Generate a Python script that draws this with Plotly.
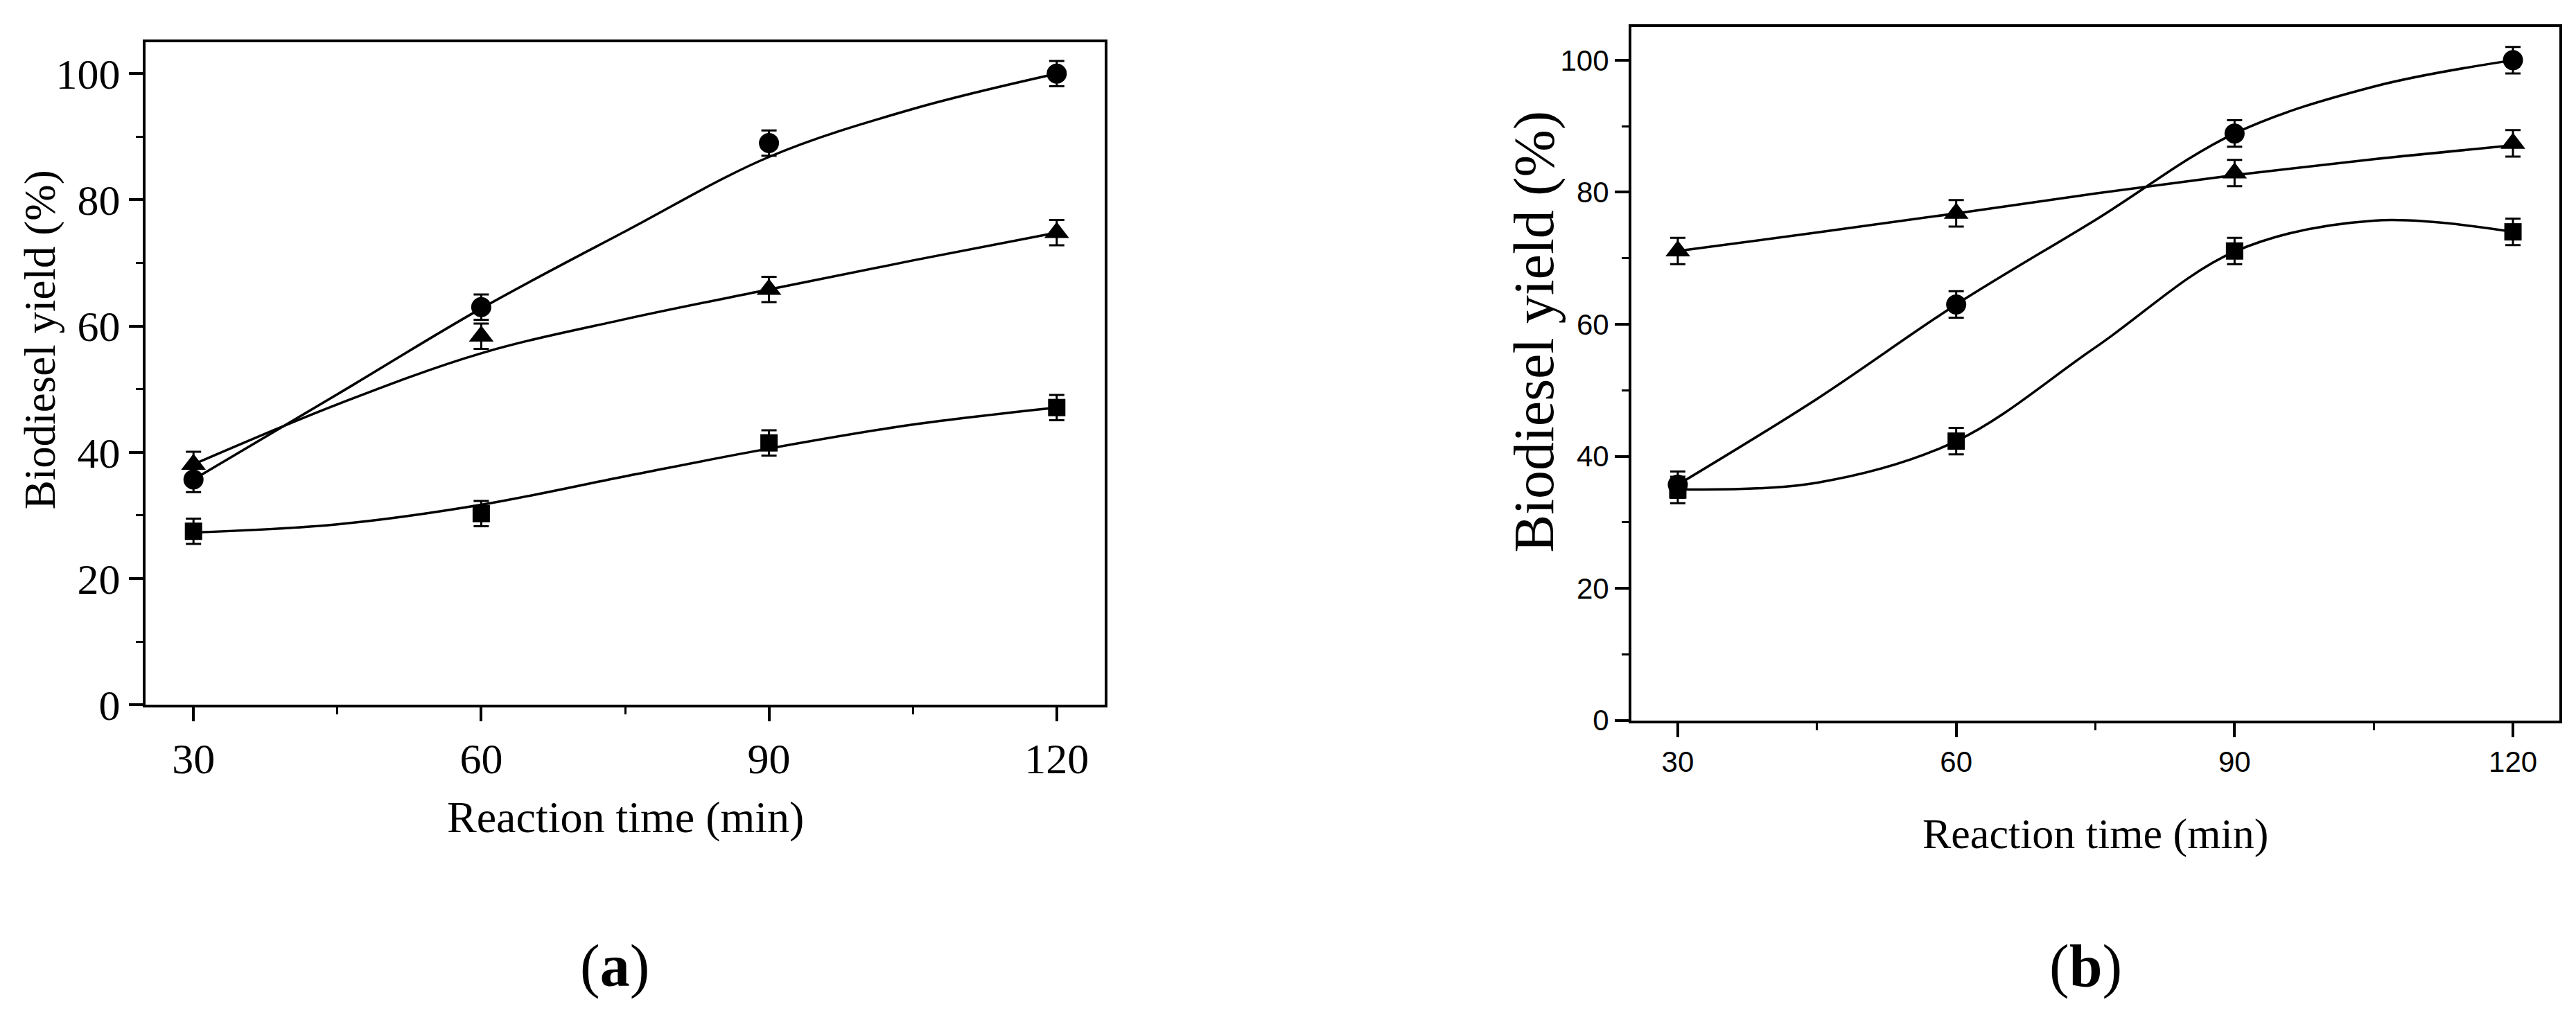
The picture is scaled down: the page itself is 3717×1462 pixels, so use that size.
import plotly.graph_objects as go

W, H = 3717, 1462

# reaction times (min)
time = [30, 60, 90, 120]
fit_time = [30, 45, 60, 75, 90, 105, 120]

# panel (a) measured yields (%)
a_circle = [35.7, 63.0, 89.0, 100.0]
a_triangle = [38.1, 58.4, 65.8, 74.8]
a_square = [27.5, 30.3, 41.5, 47.1]
# panel (a) fitted curves
a_circle_fit = [35.7, 49.2, 62.8, 75.0, 86.8, 94.4, 100.0]
a_triangle_fit = [38.1, 47.6, 55.7, 61.1, 65.8, 70.4, 74.8]
a_square_fit = [27.3, 28.6, 31.7, 36.2, 40.6, 44.4, 47.1]

# panel (b) measured yields (%)
b_circle = [35.7, 63.0, 88.9, 100.0]
b_triangle = [71.1, 76.8, 82.9, 87.4]
b_square = [34.9, 42.3, 71.1, 74.0]
# panel (b) fitted curves
b_circle_fit = [35.7, 48.7, 63.0, 75.8, 88.9, 96.0, 100.0]
b_triangle_fit = [71.1, 73.9, 76.8, 79.8, 82.6, 85.0, 87.1]
b_square_fit = [35.0, 36.0, 42.3, 56.5, 71.0, 75.7, 74.0]

err = 2.0

x_ticks = [30, 60, 90, 120]
y_ticks = [0, 20, 40, 60, 80, 100]

fig = go.Figure()


def add_panel(xa, ya, points, fits):
    # smooth curves first so markers sit on top
    for fy in fits:
        fig.add_trace(go.Scatter(
            x=fit_time, y=fy, mode='lines', xaxis=xa, yaxis=ya,
            line=dict(color='black', width=3.5, shape='spline', smoothing=1.0),
            showlegend=False, hoverinfo='skip'
        ))
    for py, sym, size in points:
        fig.add_trace(go.Scatter(
            x=time, y=py, mode='markers', xaxis=xa, yaxis=ya,
            marker=dict(symbol=sym, size=size, color='black'),
            error_y=dict(type='constant', value=err, color='black',
                         thickness=3, width=11),
            showlegend=False
        ))


add_panel('x', 'y',
          [(a_circle, 'circle', 29), (a_triangle, 'triangle-up', 31),
           (a_square, 'square', 25)],
          [a_circle_fit, a_triangle_fit, a_square_fit])
add_panel('x2', 'y2',
          [(b_circle, 'circle', 29), (b_triangle, 'triangle-up', 31),
           (b_square, 'square', 25)],
          [b_circle_fit, b_triangle_fit, b_square_fit])

serif = 'Liberation Serif, Times New Roman, serif'
sans = 'Liberation Sans, Arial, sans-serif'


def axis_style(font, size, ticks, dtick_minor, rng, domain, anchor):
    return dict(
        range=rng, domain=domain, anchor=anchor,
        showline=True, linecolor='black', linewidth=4, mirror=True,
        ticks='outside', ticklen=20, tickwidth=4, tickcolor='black',
        tickvals=ticks, showgrid=False, zeroline=False,
        tickfont=dict(family=font, size=size, color='black'),
        minor=dict(ticks='outside', ticklen=10, tickwidth=3,
                   tickcolor='black', dtick=dtick_minor, tick0=0,
                   showgrid=False),
    )


fig.update_layout(
    width=W, height=H,
    margin=dict(l=0, r=0, t=0, b=0),
    paper_bgcolor='white', plot_bgcolor='white',
    xaxis=axis_style(serif, 62, x_ticks, 15, [25, 125],
                     [202 / W, 1586 / W], 'y'),
    yaxis=axis_style(serif, 62, y_ticks, 10, [0, 105],
                     [1 - 1034 / H, 1 - 54 / H], 'x'),
    xaxis2=axis_style(sans, 42, x_ticks, 15, [25, 125],
                      [2346 / W, 3685 / W], 'y2'),
    yaxis2=axis_style(sans, 42, y_ticks, 10, [0, 105],
                      [1 - 1057 / H, 1 - 32 / H], 'x2'),
)

annots = [
    # panel (a) axis titles
    dict(text='Reaction time (min)', x=894 / W, y=1 - 1200 / H,
         font=dict(family=serif, size=64)),
    dict(text='Biodiesel yield (%)', x=50 / W, y=1 - 494 / H, textangle=-90,
         font=dict(family=serif, size=63)),
    # panel (b) axis titles
    dict(text='Reaction time (min)', x=3015 / W, y=1 - 1225 / H,
         font=dict(family=serif, size=62)),
    dict(text='Biodiesel yield (%)', x=2205 / W, y=1 - 482 / H, textangle=-90,
         font=dict(family=serif, size=82)),
    # captions
    dict(text='(<b>a</b>)', x=879 / W, y=1 - 1420 / H,
         font=dict(family=serif, size=86)),
    dict(text='(<b>b</b>)', x=3001 / W, y=1 - 1420 / H,
         font=dict(family=serif, size=86)),
]
for a in annots:
    a['font']['color'] = 'black'
    fig.add_annotation(xref='paper', yref='paper', showarrow=False,
                       xanchor='center', yanchor='middle', **a)

fig.write_html("out.html")
